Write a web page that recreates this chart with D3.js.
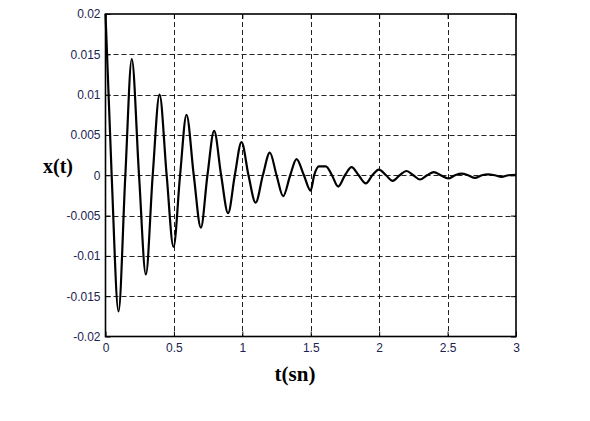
<!DOCTYPE html>
<html>
<head>
<meta charset="utf-8">
<script src="https://cdn.jsdelivr.net/npm/d3@7"></script>
<style>
  body { margin: 0; background: #fff; }
  svg { display: block; }
</style>
</head>
<body>
<svg id="chart" width="590" height="421"></svg>
<script>
// values: extrema and zero crossings of x(t)
var tValues = [0, 0.045, 0.095, 0.145, 0.192, 0.245, 0.295, 0.345, 0.395, 0.447,
  0.497, 0.545, 0.592, 0.645, 0.697, 0.745, 0.794, 0.845, 0.896, 0.945,
  0.994, 1.045, 1.097, 1.15, 1.201, 1.25, 1.298, 1.35, 1.396, 1.45,
  1.499, 1.525, 1.56, 1.61, 1.655, 1.70, 1.75, 1.798, 1.85, 1.903,
  1.95, 1.998, 2.05, 2.098, 2.15, 2.20, 2.25, 2.298, 2.35, 2.40,
  2.45, 2.505, 2.555, 2.602, 2.65, 2.70, 2.75, 2.797, 2.845, 2.895,
  2.945, 3.0];
var xValues = [0.0200, 0, -0.0169, 0, 0.0144, 0, -0.0123, 0, 0.0100, 0,
  -0.0089, 0, 0.0075, 0, -0.0065, 0, 0.0055, 0, -0.0047, 0,
  0.0041, 0, -0.0034, 0, 0.0028, 0, -0.0026, 0, 0.0020, 0,
  -0.0019, 0, 0.0011, 0.0011, 0, -0.0014, 0, 0.0010, 0, -0.0010,
  0, 0.0007, 0, -0.0007, 0, 0.00053, 0, -0.00053, 0, 0.0004,
  0, -0.0004, 0, 0.0002, 0, -0.00033, 0, 0.00012, 0, -0.0002,
  0, 0.00005];

var xTicks = [0, 0.5, 1, 1.5, 2, 2.5, 3];
var yTicks = [-0.02, -0.015, -0.01, -0.005, 0, 0.005, 0.01, 0.015, 0.02];
var xTickLabels = ["0", "0.5", "1", "1.5", "2", "2.5", "3"];
var yTickLabels = ["-0.02", "-0.015", "-0.01", "-0.005", "0", "0.005", "0.01", "0.015", "0.02"];

var svg = d3.select("#chart");
var plotL = 105.5, plotR = 516, plotT = 14, plotB = 336.5;

var x = d3.scaleLinear().domain([0, 3]).range([plotL, plotR]);
var y = d3.scaleLinear().domain([-0.02, 0.02]).range([plotB, plotT]);

// grid
var grid = svg.append("g")
  .attr("stroke", "#222")
  .attr("stroke-width", 1)
  .attr("stroke-dasharray", "5,3");
grid.selectAll("line.gx")
  .data(xTicks.slice(1, -1))
  .enter().append("line")
  .attr("x1", function(d){ return Math.round(x(d)) + 0.5; })
  .attr("x2", function(d){ return Math.round(x(d)) + 0.5; })
  .attr("y1", plotT).attr("y2", plotB);
grid.selectAll("line.gy")
  .data(yTicks.slice(1, -1))
  .enter().append("line")
  .attr("y1", function(d){ return Math.round(y(d)) + 0.5; })
  .attr("y2", function(d){ return Math.round(y(d)) + 0.5; })
  .attr("x1", plotL).attr("x2", plotR);

// axes, ticks inward on all sides
function styleAxis(g) {
  g.select(".domain").remove();
  g.selectAll(".tick line").attr("stroke", "#000");
  g.selectAll(".tick text")
    .attr("fill", "#1c2350")
    .attr("font-family", "'Liberation Sans', Arial, sans-serif")
    .attr("font-size", "12px");
}
svg.append("g")
  .attr("transform", "translate(0," + plotB + ")")
  .call(d3.axisBottom(x).tickValues(xTicks).tickSize(-5).tickPadding(7)
    .tickFormat(function(d, i){ return xTickLabels[i]; }))
  .call(styleAxis);
svg.append("g")
  .attr("transform", "translate(0," + plotT + ")")
  .call(d3.axisTop(x).tickValues(xTicks).tickSize(-5).tickFormat(""))
  .call(styleAxis);
svg.append("g")
  .attr("transform", "translate(" + plotL + ",0)")
  .call(d3.axisLeft(y).tickValues(yTicks).tickSize(-5).tickPadding(5)
    .tickFormat(function(d, i){ return yTickLabels[i]; }))
  .call(styleAxis);
svg.append("g")
  .attr("transform", "translate(" + plotR + ",0)")
  .call(d3.axisRight(y).tickValues(yTicks).tickSize(-5).tickFormat(""))
  .call(styleAxis);

// frame
svg.append("rect")
  .attr("x", plotL).attr("y", plotT)
  .attr("width", plotR - plotL).attr("height", plotB - plotT)
  .attr("fill", "none").attr("stroke", "#000").attr("stroke-width", 1.6);

// the response curve
var pts = tValues.map(function(t, i){ return [t, xValues[i]]; });
var line = d3.line()
  .x(function(d){ return x(d[0]); })
  .y(function(d){ return y(d[1]); })
  .curve(d3.curveMonotoneX);
svg.append("path")
  .datum(pts)
  .attr("d", line)
  .attr("fill", "none")
  .attr("stroke", "#000")
  .attr("stroke-width", 2.2)
  .attr("stroke-linejoin", "round");

// axis titles
svg.append("text")
  .attr("x", 58).attr("y", 173)
  .attr("text-anchor", "middle")
  .attr("font-family", "'Liberation Serif', 'Times New Roman', serif")
  .attr("font-weight", "bold")
  .attr("font-size", "20px")
  .attr("fill", "#000")
  .text("x(t)");
svg.append("text")
  .attr("x", 295).attr("y", 381)
  .attr("text-anchor", "middle")
  .attr("font-family", "'Liberation Serif', 'Times New Roman', serif")
  .attr("font-weight", "bold")
  .attr("font-size", "21px")
  .attr("fill", "#000")
  .text("t(sn)");
</script>
</body>
</html>
